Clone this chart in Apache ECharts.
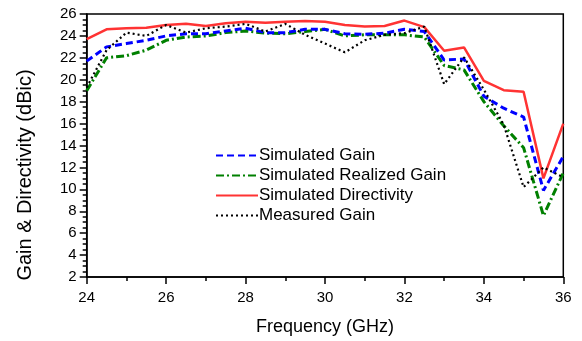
<!DOCTYPE html>
<html><head><meta charset="utf-8">
<script src="https://cdn.jsdelivr.net/npm/echarts@6/dist/echarts.min.js"></script>
<style>html,body{margin:0;padding:0;background:#fff}#c{width:582px;height:341px}</style>
</head><body><div id="c"></div>
<script>
const freq = [24,24.5,25,25.5,26,26.5,27,27.5,28,28.5,29,29.5,30,30.5,31,31.5,32,32.5,33,33.5,34,34.5,35,35.5,36];
const simGain = [21.7,23.0,23.3,23.6,24.0,24.2,24.2,24.45,24.7,24.3,24.3,24.6,24.6,24.2,24.15,24.25,24.6,24.4,21.8,21.9,18.5,17.4,16.6,9.9,13.0];
const simRealized = [19.0,22.0,22.2,22.7,23.6,23.9,24.0,24.3,24.45,24.25,24.2,24.4,24.6,24.0,24.1,24.1,24.1,23.9,21.3,20.9,18.0,15.8,13.8,7.6,11.5];
const simDirectivity = [23.7,24.6,24.7,24.75,25.0,25.1,24.9,25.15,25.3,25.2,25.3,25.35,25.3,25.0,24.85,24.9,25.4,24.8,22.65,22.95,19.9,19.05,18.9,11.0,16.0];
const measured = [19.3,22.7,24.3,24.0,25.0,24.3,24.7,24.85,25.1,24.4,25.1,24.1,23.3,22.5,23.6,24.1,24.25,24.85,19.6,22.05,19.1,15.9,10.2,12.0,11.1];
const seriesNames = ['Simulated Gain','Simulated Realized Gain','Simulated Directivity','Measured Gain'];
const xName = 'Frequency (GHz)';
const yName = 'Gain & Directivity (dBic)';

const pair = arr => freq.map((f,i)=>[f,arr[i]]);
const font = '"Liberation Sans", Arial, sans-serif';
const chart = echarts.init(document.getElementById('c'), null, {renderer:'canvas'});
chart.setOption({
  animation:false,
  grid:{left:86.7, right:18.7, top:14, bottom:61.7, show:true, borderColor:'#000', borderWidth:1.5, backgroundColor:'transparent'},
  legend:{
    orient:'vertical', left:210, top:142, itemWidth:42, itemHeight:14, itemGap:3,
    itemStyle:{opacity:0},
    textStyle:{fontFamily:font, fontSize:17, lineHeight:16, color:'#000', padding:[0,0,0,-4]},
    data:seriesNames
  },
  graphic:[{
    type:'text', x:25, y:175, rotation:Math.PI/2,
    style:{text:yName, font:'20px "Liberation Sans", Arial, sans-serif', fill:'#000', textAlign:'center', textVerticalAlign:'middle'}
  }],
  xAxis:{
    type:'value', min:24, max:36, interval:2,
    name:xName, nameLocation:'middle', nameGap:41,
    nameTextStyle:{fontFamily:font, fontSize:18, color:'#000'},
    axisLine:{show:true, lineStyle:{color:'#000', width:1.5}},
    axisTick:{show:true, inside:false, length:7, lineStyle:{color:'#000', width:1.5}},
    minorTick:{show:true, splitNumber:2, length:4, lineStyle:{color:'#000', width:1.5}},
    axisLabel:{fontFamily:font, fontSize:15, color:'#000', margin:13},
    splitLine:{show:false}
  },
  yAxis:{
    type:'value', min:2, max:26, interval:2,
    axisLine:{show:true, lineStyle:{color:'#000', width:1.5}},
    axisTick:{show:true, inside:false, length:7, lineStyle:{color:'#000', width:1.5}},
    minorTick:{show:true, splitNumber:4, length:4, lineStyle:{color:'#000', width:1.5}},
    axisLabel:{fontFamily:font, fontSize:15, color:'#000', margin:10},
    splitLine:{show:false}
  },
  series:[
    {name:seriesNames[0], type:'line', data:pair(simGain), symbol:'none', z:3,
     lineStyle:{color:'#0000ff', width:3, type:[7,4]}, itemStyle:{color:'#0000ff'}},
    {name:seriesNames[1], type:'line', data:pair(simRealized), symbol:'none', z:2,
     lineStyle:{color:'#008000', width:3, type:[8,3,2,3]}, itemStyle:{color:'#008000'}},
    {name:seriesNames[2], type:'line', data:pair(simDirectivity), symbol:'none', z:4,
     lineStyle:{color:'#ff3333', width:2.5, type:'solid'}, itemStyle:{color:'#ff3333'}},
    {name:seriesNames[3], type:'line', data:pair(measured), symbol:'none', z:5,
     lineStyle:{color:'#000', width:2.2, type:[2,3]}, itemStyle:{color:'#000'}}
  ]
});
</script></body></html>
